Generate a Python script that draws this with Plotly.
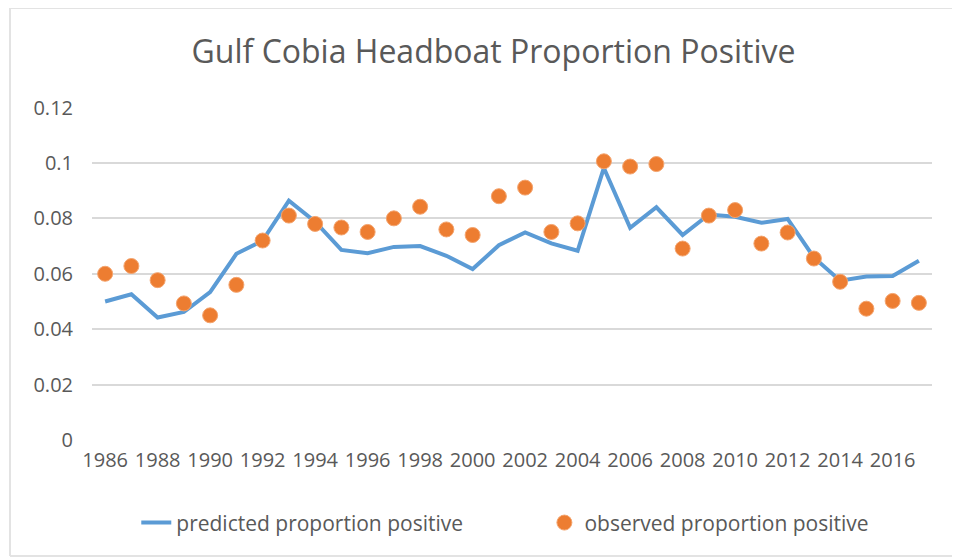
import plotly.graph_objects as go

years = list(range(1986, 2018))
predicted = [0.050, 0.0526, 0.0442, 0.0462, 0.0534, 0.0672, 0.0720, 0.0864, 0.0788, 0.0686,
             0.0674, 0.0697, 0.0700, 0.0665, 0.0617, 0.0703, 0.0749, 0.0710, 0.0683, 0.0982,
             0.0766, 0.0840, 0.0740, 0.0814, 0.0806, 0.0784, 0.0798, 0.0659, 0.0575, 0.0590,
             0.0592, 0.0647]
observed = [0.0600, 0.0628, 0.0577, 0.0493, 0.0450, 0.0560, 0.0720, 0.0810, 0.0780, 0.0767,
            0.0751, 0.0800, 0.0842, 0.0760, 0.0740, 0.0880, 0.0911, 0.0751, 0.0782, 0.1006,
            0.0987, 0.0996, 0.0691, 0.0810, 0.0830, 0.0709, 0.0749, 0.0655, 0.0571, 0.0474,
            0.0502, 0.0495]
x_ticks = list(range(1986, 2017, 2))
y_ticks = [0, 0.02, 0.04, 0.06, 0.08, 0.1, 0.12]
y_labels = ["0", "0.02", "0.04", "0.06", "0.08", "0.1", "0.12"]

FONT = "Open Sans"
GRAY = "#595959"
PAD = "\u00a0" * 14

fig = go.Figure()
fig.add_trace(go.Scatter(
    x=years, y=predicted, mode="lines", name="predicted proportion positive" + PAD,
    line=dict(color="#5B9BD5", width=4)))
fig.add_trace(go.Scatter(
    x=years, y=observed, mode="markers", name="observed proportion positive",
    marker=dict(color="#ED7D31", size=15, line=dict(color="#F4A46E", width=1))))

fig.update_layout(
    width=952, height=550,
    margin=dict(l=84, r=28, t=99, b=118, autoexpand=False),
    paper_bgcolor="white", plot_bgcolor="white",
    font=dict(family=FONT, color=GRAY, size=20),
    title=dict(text="Gulf Cobia Headboat Proportion Positive", x=0.51, xanchor="center",
               y=0.92, yanchor="middle",
               font=dict(family=FONT, size=32, color=GRAY)),
    showlegend=True,
    legend=dict(orientation="h", x=0.492, xanchor="center", y=-0.249, yanchor="middle",
                font=dict(size=21, color=GRAY), bgcolor="rgba(0,0,0,0)"),
    xaxis=dict(range=[1985.5, 2017.5], tickvals=x_ticks, ticktext=[str(v) for v in x_ticks],
               showgrid=False, zeroline=False, showline=False, ticks="",
               ticklabelstandoff=6,
               tickfont=dict(size=20, color=GRAY)),
    yaxis=dict(range=[0, 0.1202], tickvals=y_ticks, ticktext=y_labels,
               showgrid=True, gridcolor="#D9D9D9", gridwidth=1.5,
               zeroline=False, showline=False, ticks="",
               ticklabelstandoff=18,
               tickfont=dict(size=20, color=GRAY)),
)

# outer chart frame
frame = dict(type="line", xref="paper", yref="paper", line=dict(color="#E3E3E3", width=2))
fig.add_shape(**frame, x0=-0.0976, x1=1.05, y0=1.297, y1=1.297)
fig.add_shape(**frame, x0=-0.0976, x1=-0.0976, y0=1.297, y1=-0.348)
fig.add_shape(**frame, x0=-0.0976, x1=1.05, y0=-0.348, y1=-0.348)

fig.write_html("out.html")
